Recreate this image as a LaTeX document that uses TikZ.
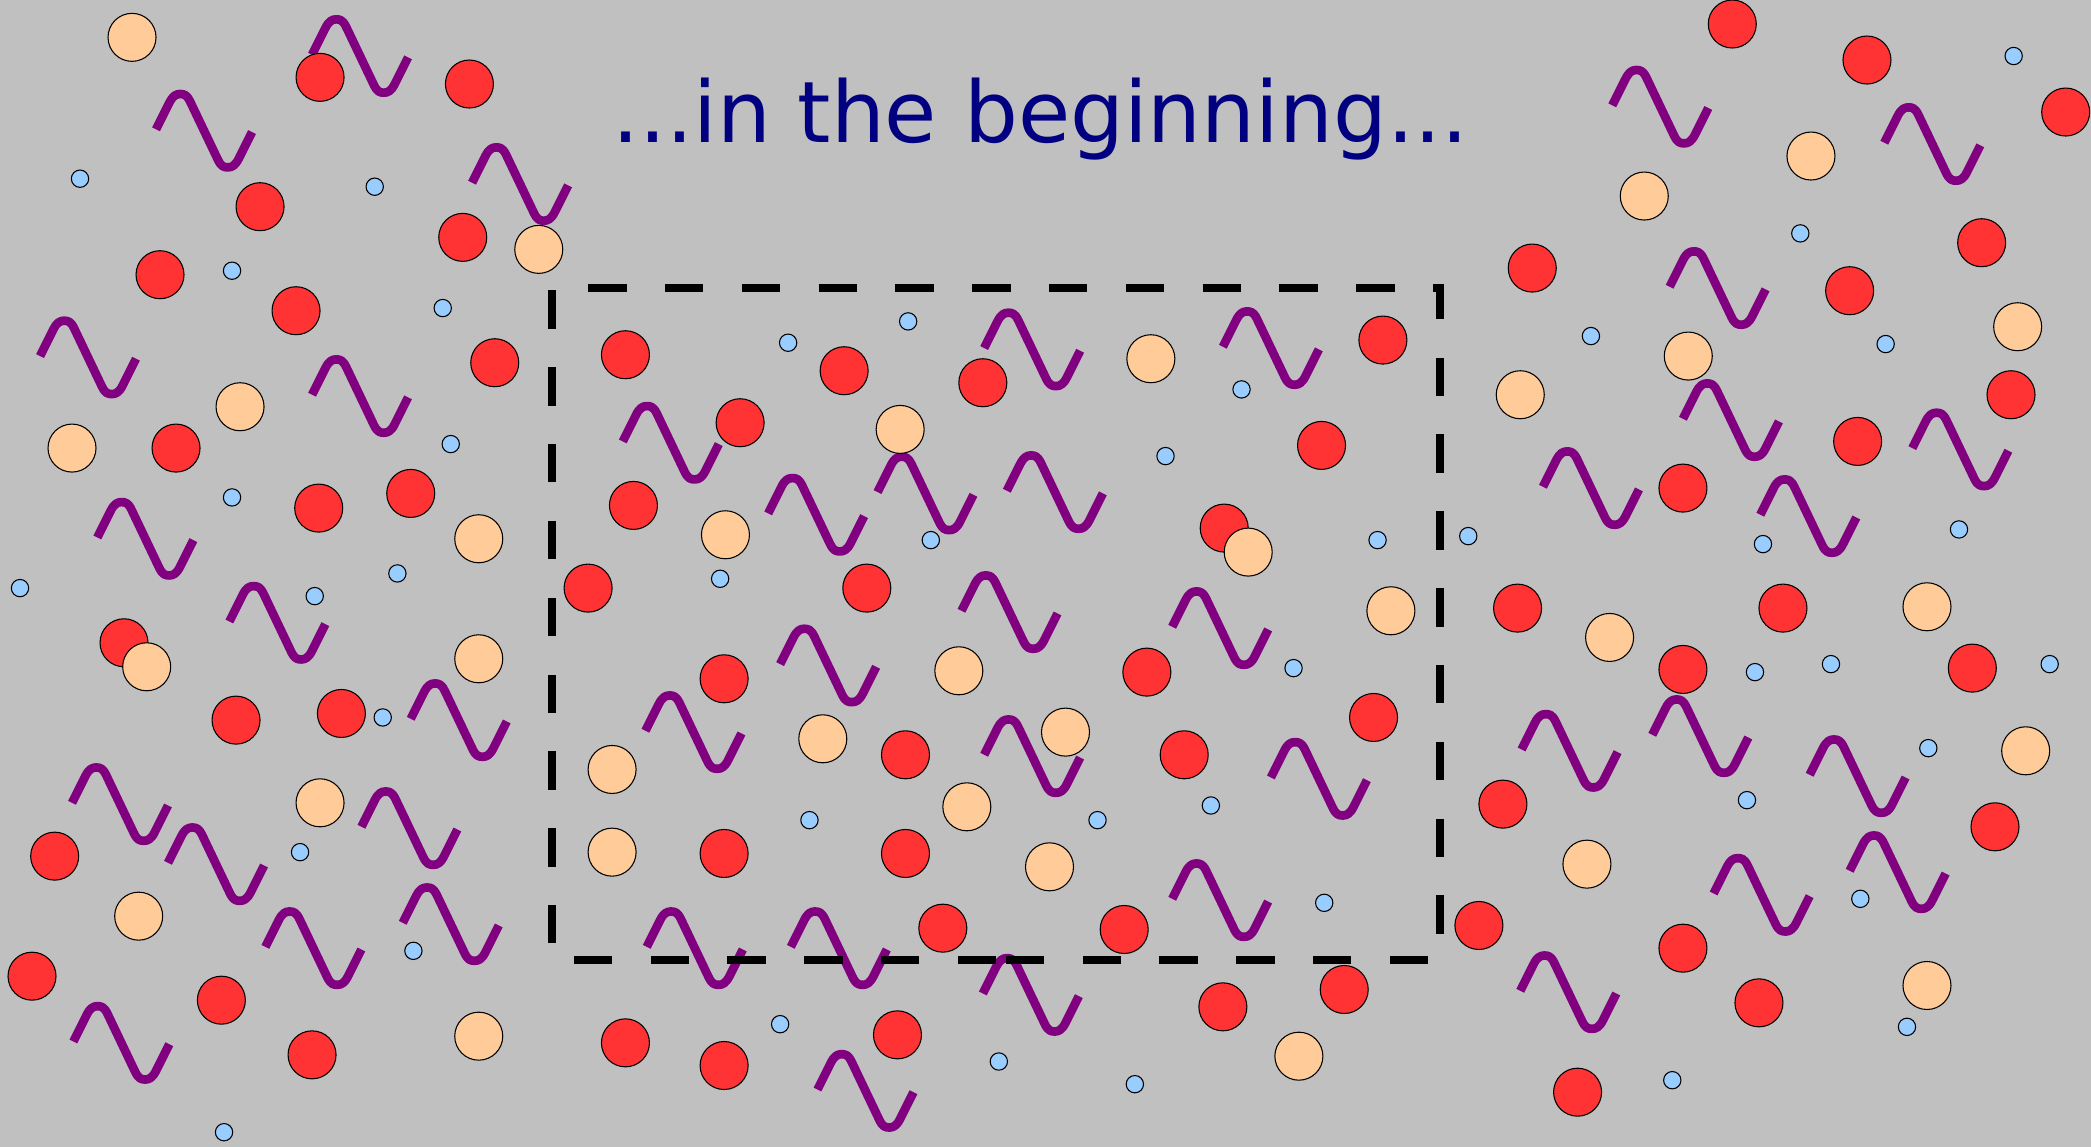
\documentclass[tikz,border=0pt]{standalone}
\usepackage{fontspec}
\usepackage{tikz}
\usepackage{xcolor}
\newfontfamily\titlefont{DejaVu Sans}

\definecolor{bggray}{HTML}{C0C0C0}
\definecolor{ballred}{HTML}{FF3333}
\definecolor{ballpeach}{HTML}{FFCC99}
\definecolor{dotblue}{HTML}{99CCFF}
\definecolor{wavepurple}{HTML}{800080}
\definecolor{titlenavy}{HTML}{000080}

\begin{document}
\begin{tikzpicture}[x=1pt,y=-1pt,
  redball/.style={fill=ballred,draw=black,line width=0.8pt},
  peachball/.style={fill=ballpeach,draw=black,line width=0.8pt},
  blueball/.style={fill=dotblue,draw=black,line width=0.8pt},
  boxline/.style={draw=black,line width=6pt,dash pattern=on 28.8pt off 28.8pt},
  titletext/.style={text=titlenavy,font=\titlefont\fontsize{63.7}{76}\selectfont,inner sep=0pt},
  squiggle/.pic={\draw[wavepurple,line width=6.5pt,line join=round]
    (-36,-1) -- (-26,-21) .. controls (-23.5,-26) and (-21,-27.5) .. (-18,-27.5)
    .. controls (-15,-27.5) and (-13,-27) .. (-10.5,-22) -- (10.5,22)
    .. controls (13,27) and (15,27.5) .. (18,27.5)
    .. controls (21,27.5) and (23.5,26) .. (26,21) -- (36,1);}]
\useasboundingbox (0,0) rectangle (1568,860);
\fill[bggray] (0,0) rectangle (1568,860);
\draw[peachball] (799,549) circle (18);
% waves, left
\pic at (270,42) {squiggle};
\pic at (153,98) {squiggle};
\pic at (390,138) {squiggle};
\pic at (66,268) {squiggle};
\pic at (270,297) {squiggle};
\pic at (109,404) {squiggle};
\pic at (208,467) {squiggle};
\pic at (344,540) {squiggle};
\pic at (90,603) {squiggle};
\pic at (162,648) {squiggle};
\pic at (307,621) {squiggle};
\pic at (235,711) {squiggle};
\pic at (338,693) {squiggle};
\pic at (91,782) {squiggle};
% waves, middle
\pic at (503,332) {squiggle};
\pic at (774,262) {squiggle};
\pic at (953,261) {squiggle};
\pic at (612,386) {squiggle};
\pic at (694,370) {squiggle};
\pic at (791,369) {squiggle};
\pic at (757,459) {squiggle};
\pic at (915,471) {squiggle};
\pic at (621,499) {squiggle};
\pic at (520,549) {squiggle};
\pic at (774,567) {squiggle};
\pic at (989,584) {squiggle};
\pic at (915,675) {squiggle};
\pic at (521,711) {squiggle};
\pic at (629,711) {squiggle};
\pic at (773,746) {squiggle};
\pic at (649,818) {squiggle};
% waves, right
\pic at (1245,80) {squiggle};
\pic at (1449,108) {squiggle};
\pic at (1288,216) {squiggle};
\pic at (1298,315) {squiggle};
\pic at (1193,366) {squiggle};
\pic at (1470,337) {squiggle};
\pic at (1356,387) {squiggle};
\pic at (1177,563) {squiggle};
\pic at (1275,552) {squiggle};
\pic at (1393,582) {squiggle};
\pic at (1321,671) {squiggle};
\pic at (1423,654) {squiggle};
\pic at (1176,744) {squiggle};
% red balls
\draw[redball] (240,58) circle (18);
\draw[redball] (352,63) circle (18);
\draw[redball] (195,155) circle (18);
\draw[redball] (347,178) circle (18);
\draw[redball] (120,206) circle (18);
\draw[redball] (222,233) circle (18);
\draw[redball] (371,272) circle (18);
\draw[redball] (132,336) circle (18);
\draw[redball] (239,381) circle (18);
\draw[redball] (308,370) circle (18);
\draw[redball] (93,482) circle (18);
\draw[redball] (177,540) circle (18);
\draw[redball] (256,535) circle (18);
\draw[redball] (41,642) circle (18);
\draw[redball] (166,750) circle (18);
\draw[redball] (24,732) circle (18);
\draw[redball] (234,791) circle (18);
\draw[redball] (469,266) circle (18);
\draw[redball] (633,278) circle (18);
\draw[redball] (737,287) circle (18);
\draw[redball] (1037,255) circle (18);
\draw[redball] (555,317) circle (18);
\draw[redball] (991,334) circle (18);
\draw[redball] (475,379) circle (18);
\draw[redball] (918,396) circle (18);
\draw[redball] (441,441) circle (18);
\draw[redball] (650,441) circle (18);
\draw[redball] (543,509) circle (18);
\draw[redball] (860,504) circle (18);
\draw[redball] (1030,538) circle (18);
\draw[redball] (679,566) circle (18);
\draw[redball] (888,566) circle (18);
\draw[redball] (543,640) circle (18);
\draw[redball] (679,640) circle (18);
\draw[redball] (707,696) circle (18);
\draw[redball] (843,697) circle (18);
\draw[redball] (1008,742) circle (18);
\draw[redball] (917,755) circle (18);
\draw[redball] (469,782) circle (18);
\draw[redball] (543,799) circle (18);
\draw[redball] (673,776) circle (18);
\draw[redball] (1299,18) circle (18);
\draw[redball] (1400,45) circle (18);
\draw[redball] (1549,84) circle (18);
\draw[redball] (1486,182) circle (18);
\draw[redball] (1149,201) circle (18);
\draw[redball] (1387,218) circle (18);
\draw[redball] (1508,296) circle (18);
\draw[redball] (1393,331) circle (18);
\draw[redball] (1262,366) circle (18);
\draw[redball] (1138,456) circle (18);
\draw[redball] (1337,456) circle (18);
\draw[redball] (1262,502) circle (18);
\draw[redball] (1479,501) circle (18);
\draw[redball] (1127,603) circle (18);
\draw[redball] (1496,620) circle (18);
\draw[redball] (1109,694) circle (18);
\draw[redball] (1262,711) circle (18);
\draw[redball] (1319,752) circle (18);
\draw[redball] (1183,819) circle (18);
% peach balls
\draw[peachball] (99,28) circle (18);
\draw[peachball] (404,187) circle (18);
\draw[peachball] (180,305) circle (18);
\draw[peachball] (54,336) circle (18);
\draw[peachball] (359,404) circle (18);
\draw[peachball] (110,500) circle (18);
\draw[peachball] (359,494) circle (18);
\draw[peachball] (240,602) circle (18);
\draw[peachball] (104,687) circle (18);
\draw[peachball] (359,777) circle (18);
\draw[peachball] (863,269) circle (18);
\draw[peachball] (675,322) circle (18);
\draw[peachball] (544,401) circle (18);
\draw[peachball] (936,414) circle (18);
\draw[peachball] (1043,458) circle (18);
\draw[peachball] (719,503) circle (18);
\draw[peachball] (617,554) circle (18);
\draw[peachball] (459,577) circle (18);
\draw[peachball] (725,605) circle (18);
\draw[peachball] (459,639) circle (18);
\draw[peachball] (787,650) circle (18);
\draw[peachball] (974,792) circle (18);
\draw[peachball] (1358,117) circle (18);
\draw[peachball] (1233,147) circle (18);
\draw[peachball] (1513,245) circle (18);
\draw[peachball] (1266,267) circle (18);
\draw[peachball] (1140,296) circle (18);
\draw[peachball] (1445,455) circle (18);
\draw[peachball] (1207,478) circle (18);
\draw[peachball] (1519,563) circle (18);
\draw[peachball] (1190,648) circle (18);
\draw[peachball] (1445,739) circle (18);
% blue dots
\draw[blueball] (60,134) circle (6.5);
\draw[blueball] (281,140) circle (6.5);
\draw[blueball] (174,203) circle (6.5);
\draw[blueball] (332,231) circle (6.5);
\draw[blueball] (338,333) circle (6.5);
\draw[blueball] (174,373) circle (6.5);
\draw[blueball] (298,430) circle (6.5);
\draw[blueball] (236,447) circle (6.5);
\draw[blueball] (15,441) circle (6.5);
\draw[blueball] (287,538) circle (6.5);
\draw[blueball] (225,639) circle (6.5);
\draw[blueball] (310,713) circle (6.5);
\draw[blueball] (168,849) circle (6.5);
\draw[blueball] (591,257) circle (6.5);
\draw[blueball] (681,241) circle (6.5);
\draw[blueball] (931,292) circle (6.5);
\draw[blueball] (874,342) circle (6.5);
\draw[blueball] (698,405) circle (6.5);
\draw[blueball] (540,434) circle (6.5);
\draw[blueball] (1033,405) circle (6.5);
\draw[blueball] (970,501) circle (6.5);
\draw[blueball] (607,615) circle (6.5);
\draw[blueball] (823,615) circle (6.5);
\draw[blueball] (908,604) circle (6.5);
\draw[blueball] (993,677) circle (6.5);
\draw[blueball] (585,768) circle (6.5);
\draw[blueball] (749,796) circle (6.5);
\draw[blueball] (851,813) circle (6.5);
\draw[blueball] (1510,42) circle (6.5);
\draw[blueball] (1350,175) circle (6.5);
\draw[blueball] (1193,252) circle (6.5);
\draw[blueball] (1414,258) circle (6.5);
\draw[blueball] (1101,402) circle (6.5);
\draw[blueball] (1322,408) circle (6.5);
\draw[blueball] (1469,397) circle (6.5);
\draw[blueball] (1316,504) circle (6.5);
\draw[blueball] (1373,498) circle (6.5);
\draw[blueball] (1537,498) circle (6.5);
\draw[blueball] (1446,561) circle (6.5);
\draw[blueball] (1310,600) circle (6.5);
\draw[blueball] (1395,674) circle (6.5);
\draw[blueball] (1430,770) circle (6.5);
\draw[blueball] (1254,810) circle (6.5);
% dashed frame
\draw[boxline] (747,720) -- (414,720) -- (414,216) -- (1080,216) -- (1080,720) -- cycle;
\node[titletext,anchor=base] (title) at (780,107) {...in the beginning...};
\end{tikzpicture}
\end{document}
